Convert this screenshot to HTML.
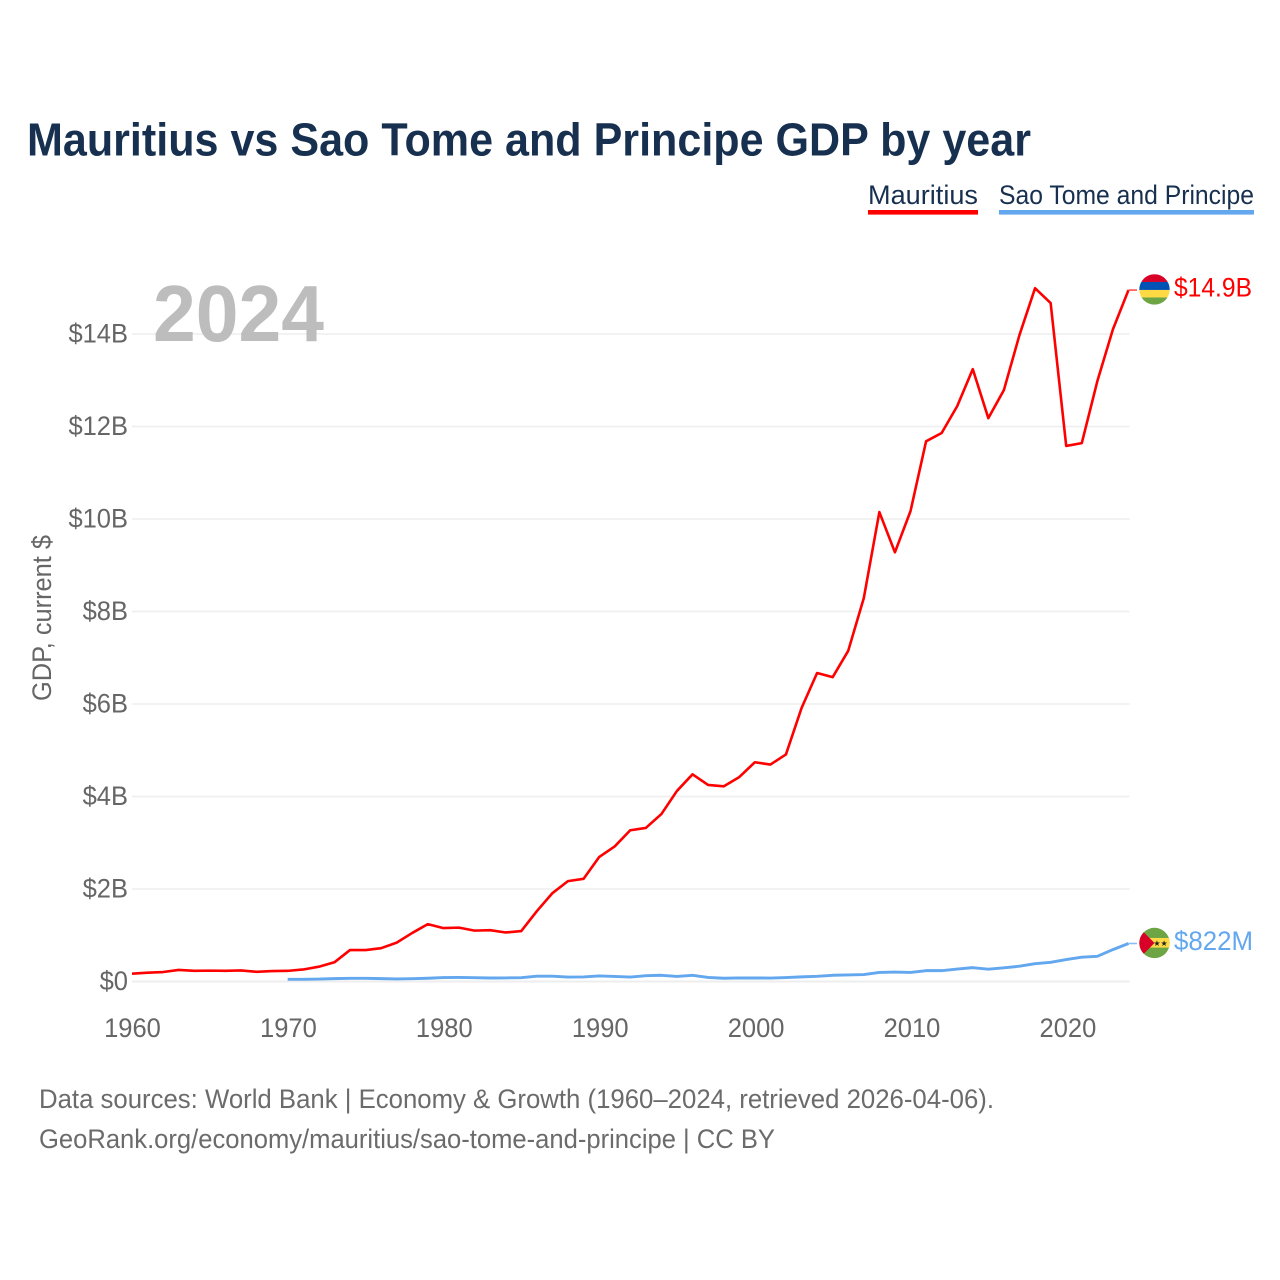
<!DOCTYPE html>
<html lang="en">
<head>
<meta charset="utf-8">
<title>Mauritius vs Sao Tome and Principe GDP by year</title>
<style>
html,body{margin:0;padding:0;background:#fff;width:1280px;height:1280px;overflow:hidden}
svg{display:block;font-family:"Liberation Sans",sans-serif}
</style>
</head>
<body>
<svg id="chart" xmlns="http://www.w3.org/2000/svg" width="1280" height="1280" viewBox="0 0 1280 1280">
  <defs>
    <clipPath id="flag-clip-a"><circle cx="0" cy="0" r="15.2"/></clipPath>
    <clipPath id="flag-clip-b"><circle cx="0" cy="0" r="15.2"/></clipPath>
  </defs>
  <text x="27" y="155.5" font-size="46" font-weight="700" fill="#17304f" textLength="1004" lengthAdjust="spacingAndGlyphs">Mauritius vs Sao Tome and Principe GDP by year</text>

  <g>
    <text x="868" y="204" font-size="26.5" fill="#17304f" textLength="110" lengthAdjust="spacingAndGlyphs">Mauritius</text>
    <rect x="868" y="210" width="110" height="4.6" fill="#ff0000"/>
  </g>
  <g>
    <text x="999" y="204" font-size="26.5" fill="#17304f" textLength="255" lengthAdjust="spacingAndGlyphs">Sao Tome and Principe</text>
    <rect x="999" y="210" width="255" height="4.6" fill="#63a7ee"/>
  </g>

  <g id="grid"></g>
  <g id="yticks"></g>
  <g id="xticks"></g>

  <text x="153" y="341" font-size="80" font-weight="700" fill="#bdbdbd" textLength="171" lengthAdjust="spacingAndGlyphs">2024</text>

  <text transform="translate(51 701) rotate(-90)" x="0" y="0" font-size="26.5" fill="#666666" textLength="166" lengthAdjust="spacingAndGlyphs">GDP, current $</text>

  <g id="series"></g>

  <g id="flag-mauritius">
    <g clip-path="url(#flag-clip-a)">
      <rect x="-16" y="-16" width="32" height="8.5" fill="#d80027"/>
      <rect x="-16" y="-7.5" width="32" height="8" fill="#0052b4"/>
      <rect x="-16" y="0.5" width="32" height="7.5" fill="#ffda44"/>
      <rect x="-16" y="8" width="32" height="8" fill="#6da544"/>
    </g>
  </g>
  <g id="flag-stp">
    <g clip-path="url(#flag-clip-b)">
      <rect x="-16" y="-16" width="32" height="32" fill="#6da544"/>
      <rect x="-16" y="-5" width="32" height="9.6" fill="#ffda44"/>
      <polygon points="-16,-16 -16,16 0,0" fill="#d80027"/>
      <text x="6" y="3.2" font-size="8" text-anchor="middle" fill="#222222" font-family="'DejaVu Sans',sans-serif">★★</text>
    </g>
  </g>

  <text id="label-mauritius" x="1174" font-size="26.5" fill="#ff0000" textLength="78" lengthAdjust="spacingAndGlyphs"></text>
  <text id="label-stp" x="1174" font-size="26.5" fill="#63a7ee" textLength="79" lengthAdjust="spacingAndGlyphs"></text>

  <text x="39" y="1108" font-size="26.5" fill="#6b6b6b" textLength="955" lengthAdjust="spacingAndGlyphs">Data sources: World Bank | Economy &amp; Growth (1960–2024, retrieved 2026-04-06).</text>
  <text x="39" y="1148" font-size="26.5" fill="#6b6b6b" textLength="736" lengthAdjust="spacingAndGlyphs">GeoRank.org/economy/mauritius/sao-tome-and-principe | CC BY</text>
</svg>
<script>
const years = [1960,1961,1962,1963,1964,1965,1966,1967,1968,1969,1970,1971,1972,1973,1974,1975,1976,1977,1978,1979,1980,1981,1982,1983,1984,1985,1986,1987,1988,1989,1990,1991,1992,1993,1994,1995,1996,1997,1998,1999,2000,2001,2002,2003,2004,2005,2006,2007,2008,2009,2010,2011,2012,2013,2014,2015,2016,2017,2018,2019,2020,2021,2022,2023,2024];
const mauritiusGdp = [0.17,0.19,0.205,0.25,0.23,0.235,0.23,0.24,0.21,0.225,0.23,0.26,0.32,0.415,0.68,0.68,0.72,0.84,1.05,1.24,1.155,1.165,1.10,1.11,1.06,1.09,1.52,1.91,2.17,2.22,2.69,2.92,3.27,3.32,3.62,4.12,4.48,4.25,4.22,4.42,4.74,4.69,4.91,5.91,6.67,6.58,7.15,8.29,10.15,9.28,10.17,11.68,11.86,12.44,13.24,12.18,12.79,13.98,14.99,14.67,11.58,11.64,12.98,14.1,14.95];
const saoTomeYears = [1970,1971,1972,1973,1974,1975,1976,1977,1978,1979,1980,1981,1982,1983,1984,1985,1986,1987,1988,1989,1990,1991,1992,1993,1994,1995,1996,1997,1998,1999,2000,2001,2002,2003,2004,2005,2006,2007,2008,2009,2010,2011,2012,2013,2014,2015,2016,2017,2018,2019,2020,2021,2022,2023,2024];
const saoTomeGdp = [0.047,0.048,0.052,0.062,0.068,0.068,0.062,0.055,0.060,0.070,0.085,0.087,0.083,0.076,0.078,0.083,0.115,0.115,0.096,0.098,0.120,0.110,0.095,0.125,0.135,0.110,0.135,0.088,0.070,0.078,0.076,0.075,0.085,0.100,0.112,0.135,0.143,0.150,0.195,0.205,0.195,0.235,0.235,0.270,0.300,0.265,0.295,0.330,0.385,0.415,0.475,0.525,0.545,0.690,0.822];
const yTickValues = [0,2,4,6,8,10,12,14];
const yTickLabels = ["$0","$2B","$4B","$6B","$8B","$10B","$12B","$14B"];
const xTickValues = [1960,1970,1980,1990,2000,2010,2020];
const endLabels = ["$14.9B","$822M"];

const NS = "http://www.w3.org/2000/svg";
function xScale(year){ return 132 + (year - 1960) * 15.57; }
function xTickScale(year){ return 132.5 + (year - 1960) * 15.59; }
function yScale(v){ return 981.5 - v * 46.25; }
function make(tag, parentId){
  const el = document.createElementNS(NS, tag);
  document.getElementById(parentId).appendChild(el);
  return el;
}
function narrowTickText(t){
  t.setAttribute("textLength", (t.getComputedTextLength() * 25.5 / 26.5).toFixed(2));
  t.setAttribute("lengthAdjust", "spacingAndGlyphs");
}

yTickValues.forEach(function(v, i){
  const line = make("line", "grid");
  
  
  line.setAttribute("x1", 132);
  line.setAttribute("x2", 1129.5);
  line.setAttribute("y1", yScale(v));
  line.setAttribute("y2", yScale(v));
  line.setAttribute("stroke", "#eeeeee");
  line.setAttribute("stroke-width", v === 0 ? "2" : "1.6");
  const t = make("text", "yticks");
  
  
  t.setAttribute("x", 128);
  t.setAttribute("y", yScale(v) + 8.3);
  t.setAttribute("text-anchor", "end");
  t.setAttribute("font-size", "26.5");
  t.setAttribute("fill", "#666666");
  t.textContent = yTickLabels[i];
  narrowTickText(t);
});

xTickValues.forEach(function(yr){
  const t = make("text", "xticks");
  
  
  t.setAttribute("x", xTickScale(yr));
  t.setAttribute("y", 1037);
  t.setAttribute("text-anchor", "middle");
  t.setAttribute("font-size", "26.5");
  t.setAttribute("fill", "#666666");
  t.textContent = String(yr);
  narrowTickText(t);
});

function buildPoints(xs, vs){
  return xs.map(function(yr, i){ return xScale(yr).toFixed(2) + "," + yScale(vs[i]).toFixed(2); }).join(" ");
}

const lineM = make("polyline", "series");


lineM.setAttribute("points", buildPoints(years, mauritiusGdp));
lineM.setAttribute("fill", "none");
lineM.setAttribute("stroke", "#ff0000");
lineM.setAttribute("stroke-width", "2.6");
lineM.setAttribute("stroke-linejoin", "round");

const lineS = make("polyline", "series");


lineS.setAttribute("points", buildPoints(saoTomeYears, saoTomeGdp));
lineS.setAttribute("fill", "none");
lineS.setAttribute("stroke", "#63a7ee");
lineS.setAttribute("stroke-width", "2.9");
lineS.setAttribute("stroke-linejoin", "round");

const lastM = mauritiusGdp[mauritiusGdp.length - 1];
const lastS = saoTomeGdp[saoTomeGdp.length - 1];
const endX = xScale(years[years.length - 1]);

const connM = make("line", "series");


connM.setAttribute("x1", endX);
connM.setAttribute("x2", 1137);
connM.setAttribute("y1", yScale(lastM));
connM.setAttribute("y2", yScale(lastM));
connM.setAttribute("stroke", "#ff5050");
connM.setAttribute("stroke-width", "1.6");

const connS = make("line", "series");


connS.setAttribute("x1", endX);
connS.setAttribute("x2", 1137);
connS.setAttribute("y1", yScale(lastS));
connS.setAttribute("y2", yScale(lastS));
connS.setAttribute("stroke", "#8cbdf2");
connS.setAttribute("stroke-width", "1.6");

document.getElementById("flag-mauritius").setAttribute("transform", "translate(1154.5 " + (yScale(lastM) - 0.6) + ")");
document.getElementById("flag-stp").setAttribute("transform", "translate(1154.5 " + (yScale(lastS) - 0.5) + ")");

const labelM = document.getElementById("label-mauritius");
labelM.setAttribute("y", yScale(lastM) + 6.5);
labelM.textContent = endLabels[0];
const labelS = document.getElementById("label-stp");
labelS.setAttribute("y", yScale(lastS) + 6.5);
labelS.textContent = endLabels[1];
</script>
</body>
</html>
